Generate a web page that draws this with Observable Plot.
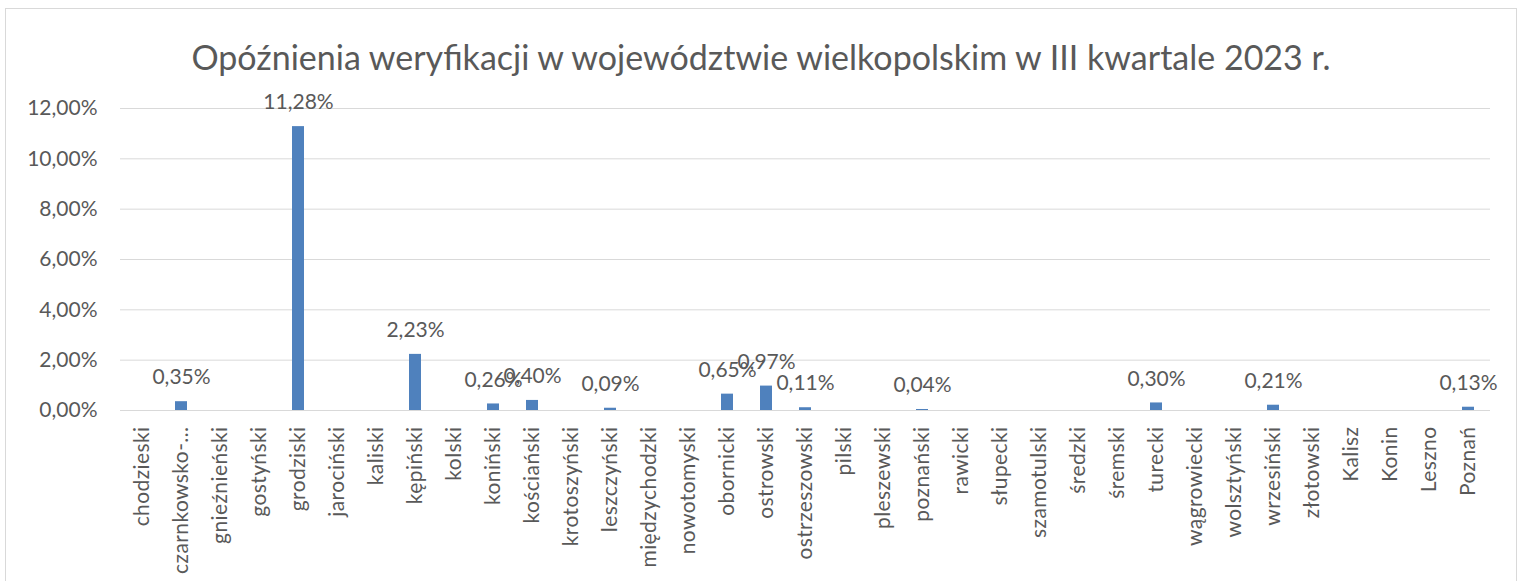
<!DOCTYPE html>
<html>
<head>
<meta charset="utf-8">
<script src="https://cdn.jsdelivr.net/npm/d3@7"></script>
<script src="https://cdn.jsdelivr.net/npm/@observablehq/plot@0.6"></script>
<style>
  html, body { margin: 0; padding: 0; background: #fff; }
  #wrap { position: relative; width: 1522px; height: 581px; overflow: hidden; font-family: Lato, "Open Sans", sans-serif; }
  #frame { position: absolute; left: 5px; top: 8px; width: 1512px; height: 620px; border: 1px solid #d9d9d9; box-sizing: border-box; }
  #title { position: absolute; left: 0; top: 0; width: 1522px; height: 90px; text-align: center; line-height: 114px; font-size: 34px; color: #595959; z-index: 2; }
  #chart { position: absolute; left: 0; top: 0; z-index: 1; }
  #chart svg g[aria-label="x-axis tick label"] text { letter-spacing: 0.4px; }
</style>
</head>
<body>
<div id="wrap">
  <div id="frame"></div>
  <div id="title">Opóźnienia weryfikacji w województwie wielkopolskim w III kwartale 2023 r.</div>
  <div id="chart"></div>
</div>
<script>
const categories = ["chodzieski","czarnkowsko-…","gnieźnieński","gostyński","grodziski","jarociński","kaliski","kępiński","kolski","koniński","kościański","krotoszyński","leszczyński","międzychodzki","nowotomyski","obornicki","ostrowski","ostrzeszowski","pilski","pleszewski","poznański","rawicki","słupecki","szamotulski","średzki","śremski","turecki","wągrowiecki","wolsztyński","wrzesiński","złotowski","Kalisz","Konin","Leszno","Poznań"];
const values = [0,0.35,0,0,11.28,0,0,2.23,0,0.26,0.40,0,0.09,0,0,0.65,0.97,0.11,0,0,0.04,0,0,0,0,0,0.30,0,0,0.21,0,0,0,0,0.13];
const yTicks = [0,2,4,6,8,10,12];

const data = categories.map((c, i) => ({cat: c, v: values[i]}));
const fmt = v => d3.format(".2f")(v).replace(".", ",") + "%";

const plot = Plot.plot({
  width: 1522,
  height: 581,
  marginLeft: 120,
  marginRight: 32,
  marginTop: 108,
  marginBottom: 171,
  style: {fontFamily: "Lato, 'Open Sans', sans-serif", fontSize: "21px", color: "#595959", background: "transparent"},
  x: {domain: categories, paddingInner: 0.69, paddingOuter: 0.34, label: null},
  y: {domain: [0, 12], ticks: yTicks, label: null},
  marks: [
    Plot.gridY(yTicks, {stroke: "#d9d9d9", strokeOpacity: 1, strokeWidth: 1}),
    Plot.axisY(yTicks, {tickSize: 0, tickPadding: 23, tickFormat: fmt, fill: "#595959", fontSize: 21, label: null}),
    Plot.axisX({tickSize: 0, tickPadding: 16, tickRotate: -90, fill: "#595959", fontSize: 21, label: null}),
    Plot.barY(data, {x: "cat", y: "v", fill: "#4f81bd"}),
    Plot.ruleY([0], {stroke: "#d9d9d9", strokeWidth: 1}),
    Plot.text(data.filter(d => d.v > 0), {x: "cat", y: "v", text: d => fmt(d.v), dy: -24, fill: "#595959", fontSize: 21})
  ]
});
document.getElementById("chart").appendChild(plot);
</script>
</body>
</html>
